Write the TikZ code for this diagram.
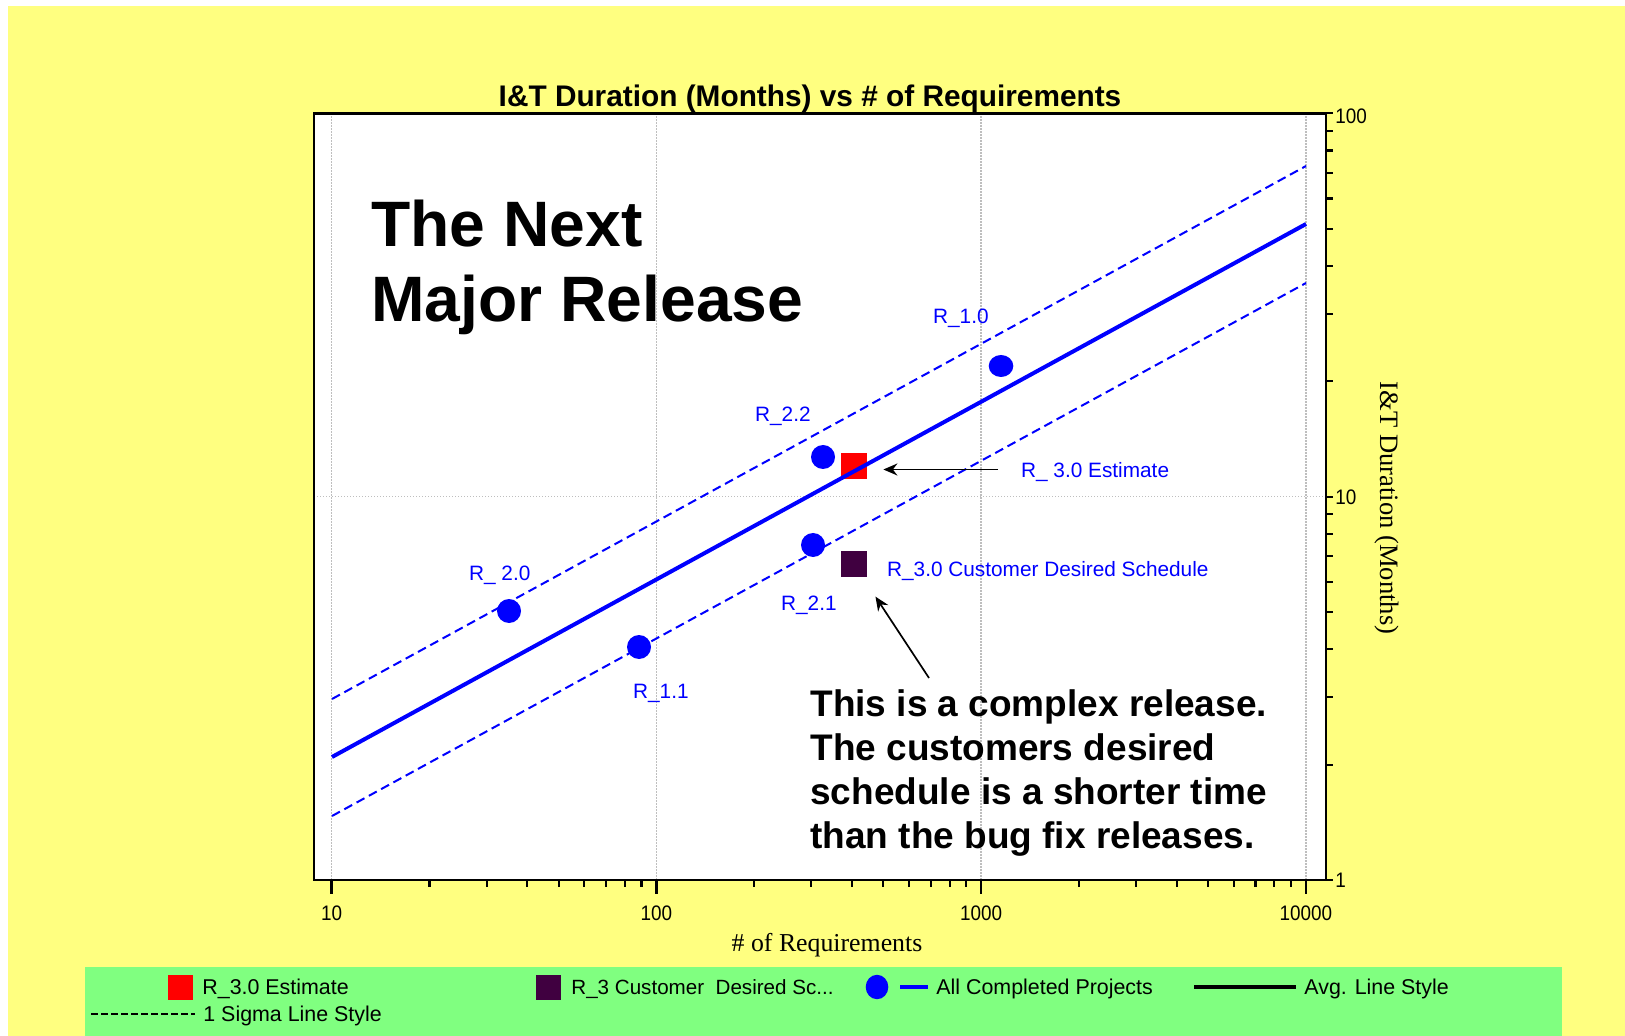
\documentclass[tikz,border=0pt]{standalone}
\usepackage{fontspec}
\usepackage{graphicx}
\setmainfont{Liberation Sans}
\newfontfamily\timesf{Liberation Serif}
\usetikzlibrary{arrows.meta,shapes.geometric}
\definecolor{bgyellow}{RGB}{255,255,128}
\definecolor{leggreen}{RGB}{128,255,128}
\definecolor{darkplum}{RGB}{64,0,64}
\definecolor{gridgray}{RGB}{190,190,190}
\begin{document}
\begin{tikzpicture}[x=0.5pt,y=-0.5pt,
  dot/.style={circle,fill=blue,inner sep=0pt,minimum size=12pt},
  sqmark/.style={rectangle,inner sep=0pt,minimum size=13pt},
  ptlabel/.style={text=blue,font=\fontsize{10.4}{12}\selectfont,inner sep=0pt,anchor=base west},
  ticklbl/.style={font=\fontsize{10.5}{12}\selectfont,inner sep=0pt,anchor=base},
  legtext/.style={font=\fontsize{10.7}{12}\selectfont,inner sep=0pt,anchor=base west},
  note/.style={font=\fontsize{18.5}{22}\selectfont\bfseries,inner sep=0pt,anchor=base west},
  bigtitle/.style={font=\fontsize{32.1}{36}\selectfont\bfseries,inner sep=0pt,anchor=base west},
  gridline/.style={gridgray,line width=0.7pt,dash pattern=on 0.7pt off 0.8pt},
  fitline/.style={blue,line width=2pt},
  sigline/.style={blue,line width=1pt,dash pattern=on 4.5pt off 2.5pt},
  pointer/.style={black,line width=0.85pt,-{Stealth[length=7pt,width=6pt]}},
  tickmark/.style={black,line width=1.1pt},
]
\useasboundingbox (0,0) rectangle (1625,1036);
\fill[white] (0,0) rectangle (1625,1036);
\fill[bgyellow] (8,6) rectangle (1625,1036);
\fill[leggreen] (85,967) rectangle (1562,1036);

% plot area
\fill[white] (314,113.3) rectangle (1326,880);
\foreach \gx in {331.7,656.4,981.1,1305.8} \draw[gridline] (\gx,113.3) -- (\gx,880);
\draw[gridline] (314,496.7) -- (1326,496.7);

% ticks
\foreach \d in {0,1,2} {\foreach \m in {2,...,9} {\draw[tickmark] ({331.7+324.7*(\d+log10(\m))},879) -- ++(0,7.5);}}
\foreach \d in {0,...,3} \draw[tickmark,line width=1.3pt] ({331.7+324.7*\d},879) -- ++(0,15);
\foreach \e in {0,1} {\foreach \m in {2,...,9} {\draw[tickmark] (1325,{880-383.3*(\e+log10(\m))}) -- ++(8,0);}}
\foreach \e in {0,1,2} \draw[tickmark] (1325,{880-383.3*\e}) -- ++(8,0);
\draw[line width=1.3pt] (314,113.3) rectangle (1326,880);

% tick labels
\node[ticklbl] (xl1) at (331.7,920) {\scalebox{0.9}[1]{10}};
\node[ticklbl] (xl2) at (656.4,920) {\scalebox{0.9}[1]{100}};
\node[ticklbl] (xl3) at (981.1,920) {\scalebox{0.9}[1]{1000}};
\node[ticklbl] (xl4) at (1305.8,920) {\scalebox{0.9}[1]{10000}};
\node[ticklbl,anchor=base west] (yl3) at (1335,123.5) {\scalebox{0.9}[1]{100}};
\node[ticklbl,anchor=base west] (yl2) at (1335,504.5) {\scalebox{0.9}[1]{10}};
\node[ticklbl,anchor=base west] (yl1) at (1335,887.5) {\scalebox{0.9}[1]{1}};

% axis titles
\node[font=\timesf\fontsize{12.9}{14}\selectfont,inner sep=0pt,anchor=base] (xtitle) at (827,951) {\# of Requirements};
\node[font=\timesf\fontsize{13.3}{15}\selectfont,inner sep=0pt,rotate=-90] (ytitle) at (1387,508) {I\&T Duration (Months)};
\node[font=\fontsize{14.9}{17}\selectfont\bfseries,inner sep=0pt,anchor=base] (ctitle) at (810,107) {I\&T Duration (Months) vs \# of Requirements};

% big heading
\node[bigtitle] (next1) at (371,247) {The Next};
\node[bigtitle] (next2) at (371,322) {Major Release};

% squares
\node[sqmark,fill=red] (estsq) at (854,466) {};
\node[sqmark,fill=darkplum] (custsq) at (854,564) {};

% fit lines
\coordinate (upA) at (332,699); \coordinate (upB) at (1306,166);
\coordinate (avgA) at (332,757); \coordinate (avgB) at (1306,224);
\coordinate (loA) at (332,816); \coordinate (loB) at (1306,283);
\draw[sigline] (upA) -- (upB);
\draw[sigline] (loA) -- (loB);
\draw[fitline] (avgA) -- (avgB);

% data points
\node[dot] (r20) at (509,611) {};
\node[dot] (r11) at (639,647) {};
\node[dot] (r21) at (813,545) {};
\node[dot] (r22) at (823,457) {};
\node[ellipse,fill=blue,inner sep=0pt,minimum width=12.3pt,minimum height=11pt] (r10) at (1001,366) {};

% point labels
\node[ptlabel] (l22) at (754.7,422) {R\_2.2};
\node[ptlabel] (l20) at (468.7,580) {R\_ 2.0};
\node[ptlabel] (l21) at (780.7,610) {R\_2.1};
\node[ptlabel] (l11) at (632.7,698) {R\_1.1};
\node[ptlabel] (l10) at (932.7,324) {R\_1.0};
\node[ptlabel] (lest) at (1020.7,478) {R\_ 3.0 Estimate};
\node[ptlabel] (lcust) at (886.7,576) {R\_3.0 Customer Desired Schedule};

% pointers
\coordinate (a1start) at (998,469.5);
\draw[pointer,shorten >=8pt] (a1start) -- (a1start -| estsq.east);
\coordinate (a2start) at (929,678);
\draw[pointer,shorten >=11.5pt] (a2start) -- (custsq);

% note
\node[note] (n1) at (810,716) {This is a complex release.};
\node[note] (n2) at (810,760) {The customers desired};
\node[note] (n3) at (810,804) {schedule is a shorter time};
\node[note] (n4) at (810,848) {than the bug fix releases.};

% legend
\node[sqmark,fill=red,minimum size=12.5pt] (legest) at (180,987) {};
\node[legtext] (legesttxt) at (202,994.5) {R\_3.0 Estimate};
\node[sqmark,fill=darkplum,minimum size=12.5pt] (legcust) at (548,987) {};
\node[legtext,font=\fontsize{10.3}{12}\selectfont] (legcusttxt) at (571,994.5) {R\_3 Customer\ \ Desired Sc...};
\node[ellipse,fill=blue,inner sep=0pt,minimum width=11.3pt,minimum height=12.2pt] (legdot) at (877,987) {};
\coordinate (legblA) at (900,987); \coordinate (legblB) at (928,987);
\draw[blue,line width=2pt] (legblA) -- (legblB);
\node[legtext] (legalltxt) at (936,994.5) {All Completed Projects};
\coordinate (legavA) at (1194,987); \coordinate (legavB) at (1296,987);
\draw[black,line width=2pt] (legavA) -- (legavB);
\node[legtext] (legavgtxt) at (1304,994.5) {Avg. Line Style};
\coordinate (legsgA) at (91,1014); \coordinate (legsgB) at (195,1014);
\draw[black,line width=0.9pt,dash pattern=on 3.5pt off 1.5pt] (legsgA) -- (legsgB);
\node[legtext] (legsigtxt) at (203,1021.5) {1 Sigma Line Style};
\end{tikzpicture}
\end{document}
